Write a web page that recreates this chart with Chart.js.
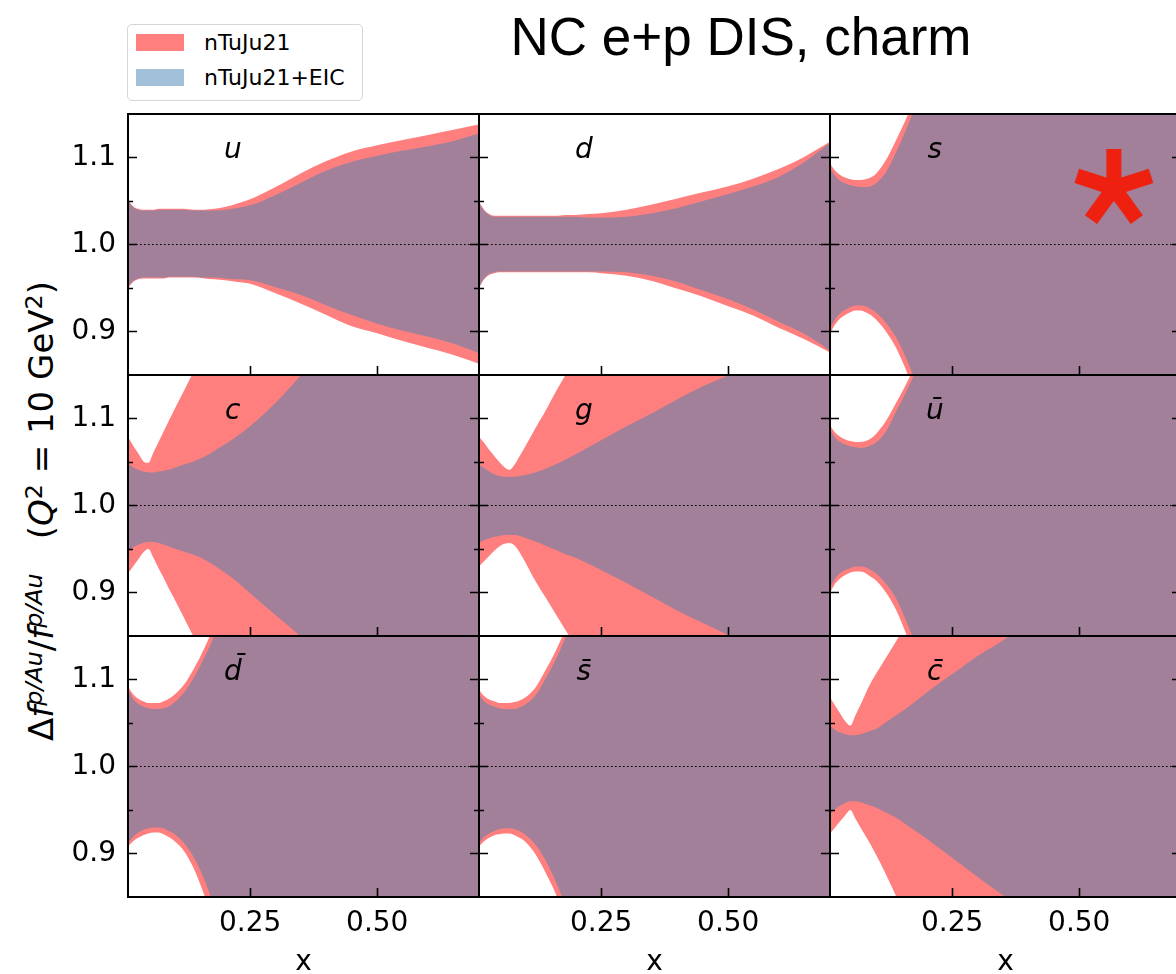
<!DOCTYPE html>
<html>
<head>
<meta charset="utf-8">
<script src="https://cdn.jsdelivr.net/npm/chart.js@4.4.0/dist/chart.umd.min.js"></script>
<style>
html,body{margin:0;padding:0;width:1176px;height:974px;overflow:hidden;background:#fff;}
.panel{position:absolute;}
.panel canvas{display:block;}
#title{position:absolute;left:741px;top:10px;transform:translateX(-50%);font-family:"Liberation Sans",Arial,sans-serif;font-size:53px;line-height:53px;white-space:nowrap;color:#000;}
#legend{position:absolute;left:127px;top:24px;width:236px;height:77px;box-sizing:border-box;border:1.5px solid #d6d6d6;border-radius:5px;background:rgba(255,255,255,0.8);font-family:"DejaVu Sans",sans-serif;font-size:22px;color:#000;}
.patch{position:absolute;left:8px;width:48px;height:17px;}
.ltxt{position:absolute;left:76px;line-height:22px;white-space:nowrap;}
#yanchor{position:absolute;left:41px;top:511px;width:0;height:0;}
#ylab{position:absolute;left:0;top:0;transform:translate(-50%,-50%) rotate(-90deg);white-space:nowrap;font-family:"DejaVu Sans",sans-serif;font-size:34px;line-height:36px;color:#000;}
#ylab sup{font-size:70%;vertical-align:0.45em;line-height:0;}
</style>
</head>
<body>
<div id="title">NC e+p DIS, charm</div>
<div id="legend">
  <div class="patch" style="top:9px;background:rgba(255,0,0,0.5)"></div>
  <div class="ltxt" style="top:7px">nTuJu21</div>
  <div class="patch" style="top:44px;background:rgba(70,130,180,0.5)"></div>
  <div class="ltxt" style="top:42px">nTuJu21+EIC</div>
</div>
<div id="yanchor"><div id="ylab">Δ<i>f</i><sup><i>p/Au</i></sup>/<i>f</i><sup><i>p/Au</i></sup>&ensp;&ensp;(<i>Q</i><sup>2</sup> = 10 GeV<sup>2</sup>)</div></div>
<script>
// ---------------- data ----------------
const xGrid = [0.01,0.02,0.03,0.04,0.05,0.06,0.07,0.08,0.09,0.1,0.12,0.14,0.16,0.18,0.2,0.225,0.25,0.3,0.35,0.4,0.45,0.5,0.55,0.6,0.65,0.7];
const xTickValues = [0.25, 0.5];
const xTickLabels = ['0.25', '0.50'];
const yTickValues = [0.9, 1.0, 1.1];
const yTickLabels = ['0.9', '1.0', '1.1'];
const yMinorTickValues = [0.95, 1.05];
const seriesNames = ['nTuJu21', 'nTuJu21+EIC'];
const panelLabels = ['u', 'd', 's', 'c', 'g', 'u\u0304', 'd\u0304', 's\u0304', 'c\u0304'];
const starPoint = [{x: 0.568, y: 1.065}];

// u
const u_red_hi  = [1.051,1.044,1.041,1.040,1.040,1.040,1.041,1.041,1.041,1.041,1.041,1.040,1.040,1.041,1.043,1.047,1.052,1.066,1.082,1.096,1.107,1.114,1.120,1.126,1.132,1.138];
const u_blue_hi = [1.050,1.043,1.040,1.039,1.039,1.039,1.040,1.040,1.040,1.040,1.040,1.039,1.039,1.039,1.040,1.042,1.045,1.057,1.071,1.085,1.095,1.102,1.108,1.113,1.119,1.128];
const u_red_lo  = [0.950,0.957,0.960,0.961,0.961,0.961,0.961,0.961,0.962,0.962,0.962,0.962,0.961,0.960,0.959,0.957,0.955,0.944,0.932,0.919,0.906,0.898,0.889,0.881,0.873,0.863];
const u_blue_lo = [0.951,0.958,0.961,0.962,0.962,0.962,0.962,0.962,0.963,0.963,0.963,0.963,0.962,0.962,0.961,0.960,0.959,0.951,0.942,0.930,0.919,0.909,0.901,0.894,0.886,0.875];
// d
const d_red_hi  = [1.049,1.040,1.035,1.033,1.033,1.033,1.033,1.033,1.033,1.033,1.033,1.033,1.033,1.034,1.034,1.035,1.036,1.040,1.046,1.053,1.060,1.067,1.076,1.087,1.101,1.118];
const d_blue_hi = [1.048,1.039,1.034,1.032,1.032,1.032,1.032,1.032,1.032,1.032,1.032,1.032,1.032,1.032,1.032,1.031,1.031,1.032,1.036,1.042,1.050,1.058,1.067,1.078,1.095,1.117];
const d_red_lo  = [0.950,0.960,0.965,0.967,0.968,0.968,0.968,0.968,0.968,0.968,0.968,0.968,0.968,0.968,0.968,0.968,0.967,0.964,0.958,0.949,0.940,0.929,0.918,0.904,0.891,0.876];
const d_blue_lo = [0.951,0.961,0.966,0.968,0.969,0.969,0.969,0.969,0.969,0.969,0.969,0.969,0.969,0.969,0.969,0.969,0.969,0.968,0.964,0.957,0.947,0.937,0.925,0.911,0.897,0.878];
// s
const s_red_hi  = [1.093,1.085,1.080,1.077,1.075,1.074,1.074,1.075,1.077,1.081,1.097,1.120,1.145,1.175,1.210,1.250,1.290,1.370,1.450,1.500,1.500,1.500,1.500,1.500,1.500,1.500];
const s_blue_hi = [1.088,1.079,1.073,1.070,1.068,1.067,1.066,1.066,1.067,1.070,1.083,1.106,1.133,1.163,1.200,1.240,1.280,1.360,1.440,1.500,1.500,1.500,1.500,1.500,1.500,1.500];
const s_red_lo  = [0.898,0.908,0.915,0.919,0.922,0.924,0.924,0.922,0.919,0.914,0.900,0.881,0.855,0.825,0.790,0.750,0.710,0.630,0.550,0.500,0.500,0.500,0.500,0.500,0.500,0.500];
const s_blue_lo = [0.903,0.914,0.921,0.925,0.928,0.930,0.930,0.929,0.926,0.922,0.910,0.893,0.869,0.840,0.805,0.765,0.725,0.645,0.565,0.500,0.500,0.500,0.500,0.500,0.500,0.500];
// c
const c_red_hi  = [1.079,1.069,1.060,1.051,1.049,1.061,1.073,1.085,1.097,1.109,1.132,1.155,1.178,1.200,1.222,1.250,1.278,1.330,1.380,1.430,1.470,1.500,1.500,1.500,1.500,1.500];
const c_blue_hi = [1.048,1.044,1.041,1.039,1.038,1.038,1.039,1.040,1.041,1.043,1.047,1.051,1.056,1.063,1.070,1.080,1.091,1.118,1.150,1.185,1.220,1.260,1.300,1.340,1.380,1.420];
const c_red_lo  = [0.922,0.930,0.938,0.946,0.950,0.940,0.928,0.917,0.905,0.894,0.871,0.848,0.825,0.802,0.780,0.752,0.725,0.670,0.615,0.565,0.520,0.500,0.500,0.500,0.500,0.500];
const c_blue_lo = [0.947,0.952,0.955,0.957,0.958,0.958,0.957,0.955,0.953,0.951,0.947,0.943,0.938,0.931,0.923,0.912,0.899,0.874,0.849,0.820,0.790,0.760,0.730,0.700,0.670,0.640];
// g
const g_red_hi  = [1.079,1.072,1.064,1.057,1.050,1.044,1.041,1.047,1.057,1.067,1.088,1.108,1.130,1.150,1.171,1.198,1.225,1.280,1.330,1.380,1.430,1.480,1.500,1.500,1.500,1.500];
const g_blue_hi = [1.047,1.043,1.039,1.036,1.034,1.033,1.033,1.033,1.034,1.035,1.038,1.042,1.047,1.053,1.059,1.067,1.075,1.091,1.106,1.122,1.137,1.150,1.165,1.180,1.195,1.210];
const g_red_lo  = [0.930,0.936,0.942,0.948,0.953,0.956,0.957,0.954,0.946,0.936,0.914,0.895,0.876,0.857,0.838,0.814,0.790,0.740,0.690,0.640,0.590,0.540,0.500,0.500,0.500,0.500];
const g_blue_lo = [0.957,0.960,0.962,0.964,0.965,0.966,0.966,0.966,0.965,0.963,0.959,0.954,0.949,0.944,0.940,0.933,0.926,0.911,0.895,0.879,0.865,0.851,0.836,0.820,0.805,0.790];
// ubar
const ubar_red_hi  = [1.092,1.084,1.079,1.076,1.074,1.073,1.073,1.074,1.077,1.082,1.097,1.118,1.140,1.165,1.195,1.235,1.275,1.355,1.435,1.500,1.500,1.500,1.500,1.500,1.500,1.500];
const ubar_blue_hi = [1.087,1.078,1.073,1.070,1.068,1.067,1.066,1.067,1.069,1.072,1.085,1.108,1.131,1.157,1.190,1.230,1.270,1.350,1.430,1.500,1.500,1.500,1.500,1.500,1.500,1.500];
const ubar_red_lo  = [0.900,0.910,0.916,0.920,0.923,0.924,0.924,0.922,0.918,0.914,0.900,0.880,0.852,0.820,0.785,0.745,0.705,0.625,0.545,0.500,0.500,0.500,0.500,0.500,0.500,0.500];
const ubar_blue_lo = [0.905,0.916,0.922,0.926,0.928,0.930,0.930,0.929,0.926,0.922,0.910,0.893,0.867,0.837,0.800,0.760,0.720,0.640,0.560,0.500,0.500,0.500,0.500,0.500,0.500,0.500];
// dbar
const dbar_red_hi  = [1.092,1.083,1.078,1.075,1.073,1.073,1.073,1.075,1.078,1.082,1.094,1.113,1.136,1.162,1.190,1.230,1.270,1.350,1.430,1.500,1.500,1.500,1.500,1.500,1.500,1.500];
const dbar_blue_hi = [1.088,1.078,1.072,1.069,1.067,1.066,1.066,1.067,1.069,1.073,1.085,1.103,1.125,1.151,1.180,1.220,1.260,1.340,1.420,1.500,1.500,1.500,1.500,1.500,1.500,1.500];
const dbar_red_lo  = [0.908,0.914,0.918,0.921,0.923,0.924,0.924,0.922,0.919,0.915,0.903,0.882,0.852,0.815,0.775,0.735,0.695,0.615,0.535,0.500,0.500,0.500,0.500,0.500,0.500,0.500];
const dbar_blue_lo = [0.912,0.919,0.924,0.927,0.929,0.930,0.930,0.929,0.926,0.923,0.912,0.895,0.870,0.838,0.800,0.760,0.720,0.640,0.560,0.500,0.500,0.500,0.500,0.500,0.500,0.500];
// sbar
const sbar_red_hi  = [1.088,1.081,1.077,1.075,1.073,1.073,1.073,1.074,1.076,1.079,1.090,1.110,1.132,1.158,1.190,1.230,1.270,1.350,1.430,1.500,1.500,1.500,1.500,1.500,1.500,1.500];
const sbar_blue_hi = [1.083,1.075,1.071,1.069,1.067,1.066,1.066,1.066,1.068,1.071,1.081,1.100,1.122,1.148,1.180,1.220,1.260,1.340,1.420,1.500,1.500,1.500,1.500,1.500,1.500,1.500];
const sbar_red_lo  = [0.908,0.914,0.918,0.921,0.922,0.923,0.923,0.921,0.918,0.914,0.900,0.879,0.855,0.825,0.790,0.750,0.710,0.630,0.550,0.500,0.500,0.500,0.500,0.500,0.500,0.500];
const sbar_blue_lo = [0.912,0.919,0.923,0.926,0.928,0.929,0.929,0.928,0.926,0.922,0.911,0.893,0.869,0.840,0.805,0.765,0.725,0.645,0.565,0.500,0.500,0.500,0.500,0.500,0.500,0.500];
// cbar
const cbar_red_hi  = [1.080,1.070,1.061,1.052,1.047,1.059,1.071,1.084,1.096,1.106,1.125,1.144,1.163,1.183,1.203,1.228,1.253,1.303,1.353,1.403,1.450,1.500,1.500,1.500,1.500,1.500];
const cbar_blue_hi = [1.047,1.042,1.039,1.037,1.036,1.036,1.037,1.039,1.041,1.043,1.051,1.059,1.067,1.076,1.085,1.096,1.106,1.127,1.145,1.168,1.190,1.210,1.230,1.250,1.270,1.290];
const cbar_red_lo  = [0.923,0.930,0.937,0.944,0.950,0.940,0.930,0.920,0.910,0.899,0.876,0.851,0.825,0.800,0.775,0.745,0.715,0.665,0.615,0.565,0.520,0.500,0.500,0.500,0.500,0.500];
const cbar_blue_lo = [0.945,0.951,0.955,0.958,0.960,0.960,0.959,0.957,0.955,0.953,0.947,0.941,0.933,0.925,0.917,0.906,0.895,0.873,0.852,0.830,0.810,0.790,0.770,0.750,0.730,0.710];

// ---------------- layout / style ----------------
const X_MIN = 0.01, X_MAX = 0.7, Y_MIN = 0.85, Y_MAX = 1.15;
const PANEL_W = 351, PANEL_H = 261, LEFT0 = 128, TOP0 = 114, M = 3, YAXIS_W = 128, XAXIS_H = 85;
const RED = 'rgba(255,0,0,0.5)', BLUE = 'rgba(70,130,180,0.5)', STAR_COLOR = 'rgb(238,32,16)';
const TICK_FONT = {family: 'DejaVu Sans', size: 28};
const LABEL_POS = {x: 0.216, y: 1.1};

const panels = [
  [u_red_hi, u_red_lo, u_blue_hi, u_blue_lo],
  [d_red_hi, d_red_lo, d_blue_hi, d_blue_lo],
  [s_red_hi, s_red_lo, s_blue_hi, s_blue_lo],
  [c_red_hi, c_red_lo, c_blue_hi, c_blue_lo],
  [g_red_hi, g_red_lo, g_blue_hi, g_blue_lo],
  [ubar_red_hi, ubar_red_lo, ubar_blue_hi, ubar_blue_lo],
  [dbar_red_hi, dbar_red_lo, dbar_blue_hi, dbar_blue_lo],
  [sbar_red_hi, sbar_red_lo, sbar_blue_hi, sbar_blue_lo],
  [cbar_red_hi, cbar_red_lo, cbar_blue_hi, cbar_blue_lo]
];

function pts(arr) { return xGrid.map((x, i) => ({x: x, y: arr[i]})); }

// star marker image (five arms)
const starImg = document.createElement('canvas');
starImg.width = 90; starImg.height = 90;
(function () {
  const g = starImg.getContext('2d');
  g.fillStyle = STAR_COLOR;
  for (let k = 0; k < 5; k++) {
    g.save(); g.translate(45, 45); g.rotate(k * 2 * Math.PI / 5);
    g.fillRect(-7.5, -39, 15, 39);
    g.restore();
  }
})();

function framePlugin(label) {
  return {
    id: 'frame',
    afterDatasetsDraw(chart) {
      const ctx = chart.ctx, a = chart.chartArea, xs = chart.scales.x, ys = chart.scales.y;
      ctx.save();
      ctx.fillStyle = '#000';
      ctx.font = 'italic 28px "DejaVu Sans"';
      ctx.textAlign = 'center';
      ctx.textBaseline = 'alphabetic';
      ctx.fillText(label, xs.getPixelForValue(LABEL_POS.x), ys.getPixelForValue(LABEL_POS.y));
      ctx.strokeStyle = '#000';
      ctx.lineWidth = 1.6;
      ctx.beginPath();
      yTickValues.forEach(v => {
        const py = Math.round(ys.getPixelForValue(v)) + 0.5;
        ctx.moveTo(a.left, py); ctx.lineTo(a.left + 9, py);
        ctx.moveTo(a.right, py); ctx.lineTo(a.right - 9, py);
      });
      yMinorTickValues.forEach(v => {
        const py = Math.round(ys.getPixelForValue(v)) + 0.5;
        ctx.moveTo(a.left, py); ctx.lineTo(a.left + 5, py);
        ctx.moveTo(a.right, py); ctx.lineTo(a.right - 5, py);
      });
      xTickValues.forEach(v => {
        const px = Math.round(xs.getPixelForValue(v)) + 0.5;
        ctx.moveTo(px, a.bottom); ctx.lineTo(px, a.bottom - 9);
      });
      ctx.stroke();
      ctx.lineWidth = 2;
      ctx.strokeRect(a.left, a.top, a.right - a.left, a.bottom - a.top);
      ctx.restore();
    }
  };
}

panels.forEach((p, i) => {
  const r = Math.floor(i / 3), c = i % 3;
  const showX = r === 2, showY = c === 0;
  const box = document.createElement('div');
  box.className = 'panel';
  const left = showY ? 0 : LEFT0 + c * PANEL_W - M;
  const top = TOP0 + r * PANEL_H - M;
  const w = (showY ? YAXIS_W : M) + PANEL_W + M;
  const h = M + PANEL_H + (showX ? XAXIS_H : M);
  box.style.left = left + 'px'; box.style.top = top + 'px';
  box.style.width = w + 'px'; box.style.height = h + 'px';
  const cv = document.createElement('canvas');
  box.appendChild(cv);
  document.body.appendChild(box);

  const band = (arr, color, fill, order, name) => ({
    label: name, data: pts(arr), fill: fill, backgroundColor: color,
    borderColor: 'rgba(0,0,0,0)', borderWidth: 0, pointRadius: 0,
    cubicInterpolationMode: 'monotone', capBezierPoints: false, order: order
  });
  const datasets = [
    band(p[2], BLUE, '+1', 1, seriesNames[1]),
    band(p[3], BLUE, false, 1, seriesNames[1]),
    band(p[0], RED, '+1', 2, seriesNames[0]),
    band(p[1], RED, false, 2, seriesNames[0]),
    {label: 'ref', data: [{x: X_MIN, y: 1}, {x: X_MAX, y: 1}], borderColor: '#000', borderWidth: 1.2,
     borderDash: [1.6, 2.4], pointRadius: 0, fill: false, order: 0}
  ];
  if (i === 2) {
    datasets.push({label: 'star', data: starPoint, showLine: false, pointStyle: starImg,
      pointRadius: 40, borderWidth: 0, fill: false, order: -1});
  }

  new Chart(cv, {
    type: 'line',
    data: {datasets: datasets},
    options: {
      responsive: true, maintainAspectRatio: false, animation: false, events: [],
      devicePixelRatio: 1,
      layout: {autoPadding: false, padding: {left: showY ? 0 : M, right: M, top: M, bottom: showX ? 0 : M}},
      plugins: {legend: {display: false}, tooltip: {enabled: false}},
      scales: {
        x: {
          type: 'linear', min: X_MIN, max: X_MAX, display: showX,
          grid: {display: false, drawTicks: false}, border: {display: false},
          afterBuildTicks: s => { s.ticks = xTickValues.map(v => ({value: v})); },
          ticks: {callback: (v, k) => xTickLabels[k], font: TICK_FONT, color: '#000', padding: 10, maxRotation: 0, autoSkip: false},
          title: {display: true, text: 'x', font: TICK_FONT, color: '#000', padding: {top: 0, bottom: 2}},
          afterFit: s => { s.height = showX ? XAXIS_H : 0; s.paddingLeft = 0; s.paddingRight = 0; }
        },
        y: {
          type: 'linear', min: Y_MIN, max: Y_MAX, display: showY,
          grid: {display: false, drawTicks: false}, border: {display: false},
          afterBuildTicks: s => { s.ticks = yTickValues.map(v => ({value: v})); },
          ticks: {callback: (v, k) => yTickLabels[k], font: TICK_FONT, color: '#000', padding: 12, autoSkip: false},
          afterFit: s => { s.width = showY ? YAXIS_W : 0; s.paddingTop = 0; s.paddingBottom = 0; }
        }
      }
    },
    plugins: [framePlugin(panelLabels[i])]
  });
});
</script>
</body>
</html>
